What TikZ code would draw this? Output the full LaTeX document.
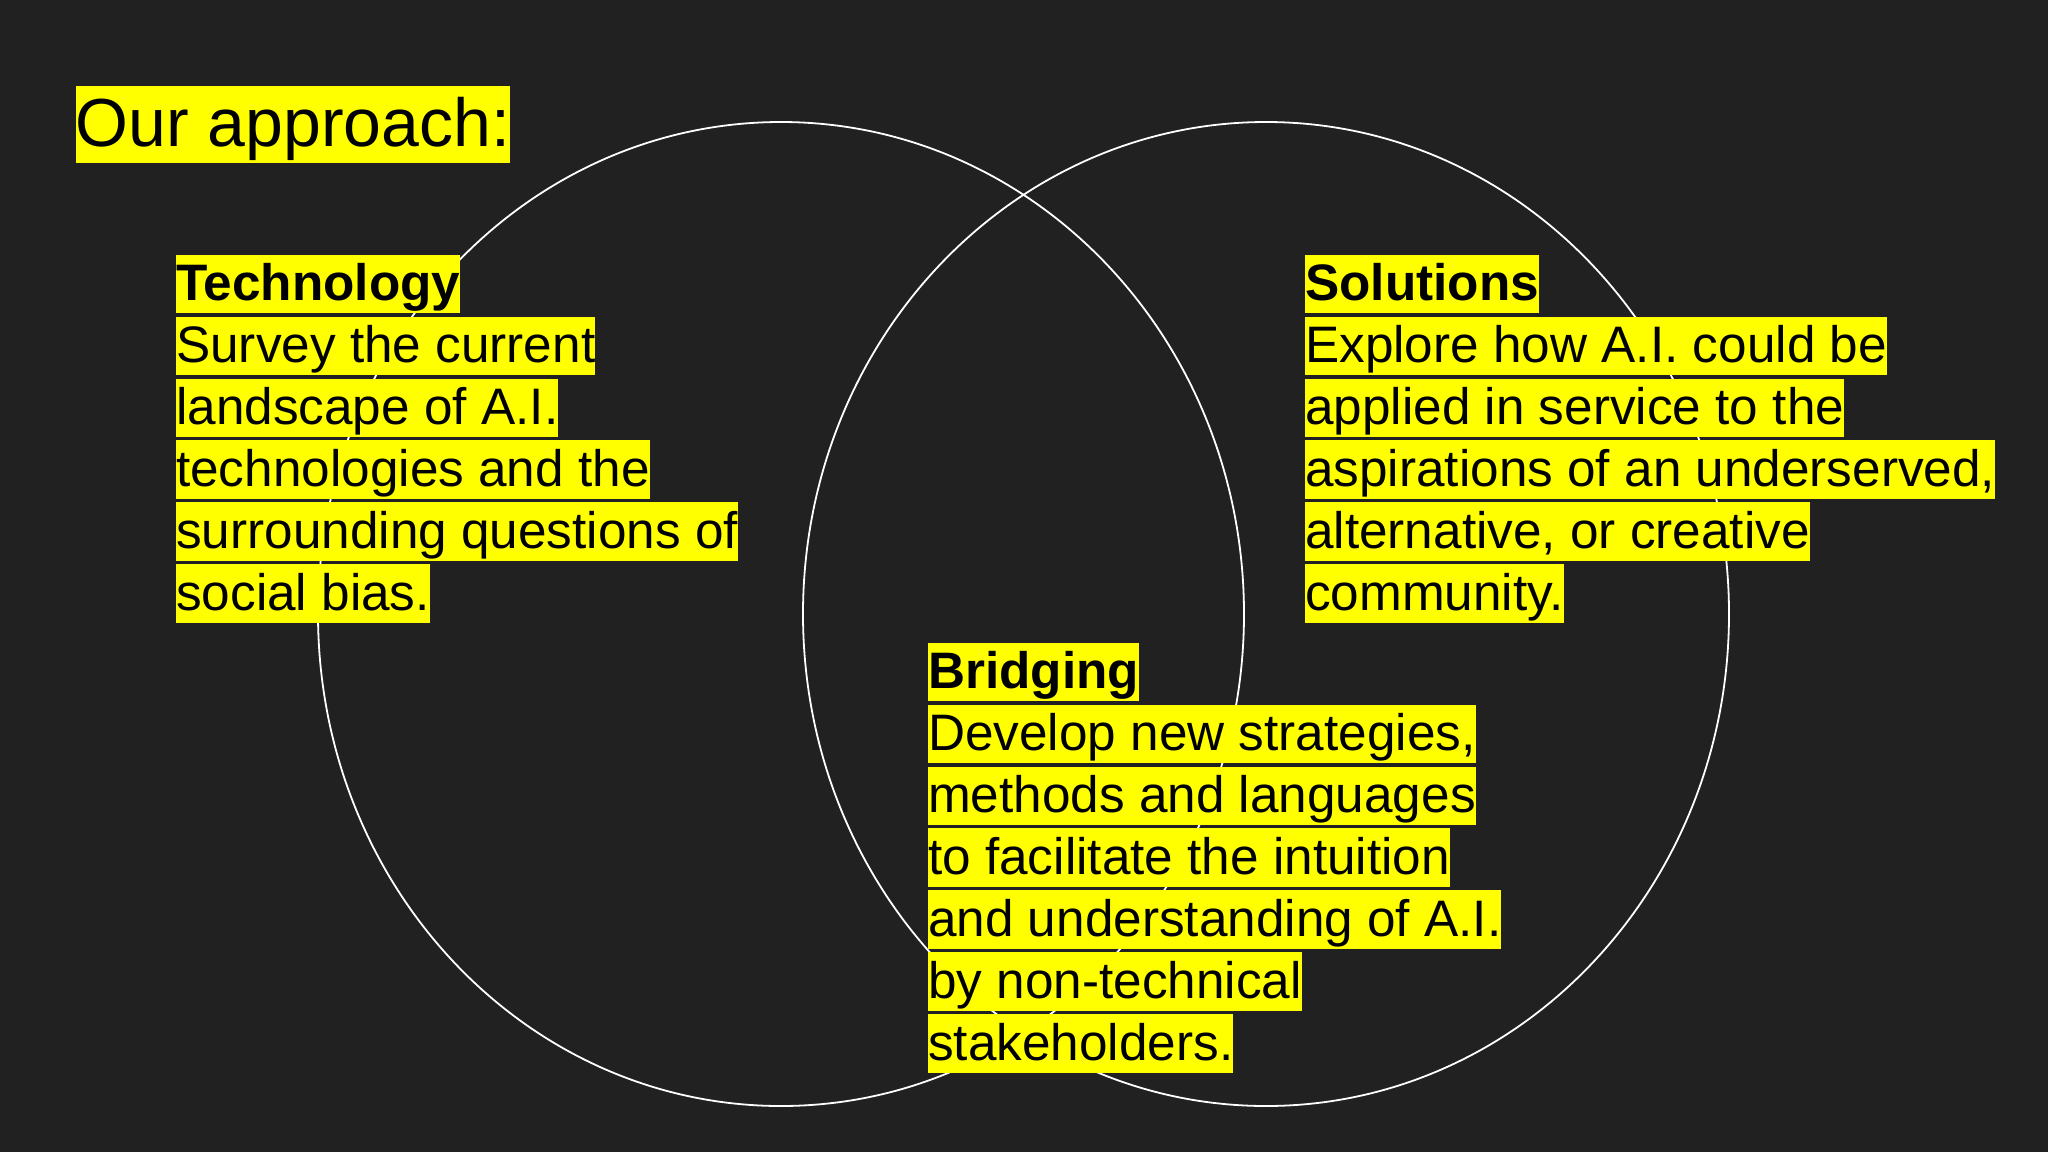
\documentclass[tikz,border=0pt]{standalone}
\usepackage{fontspec}
\setmainfont{Liberation Sans}
\usetikzlibrary{positioning}
\definecolor{slidebg}{RGB}{33,33,33}
\definecolor{marker}{RGB}{255,255,0}
\newcommand{\bodysize}{\fontsize{51.3}{61.5}\selectfont}
\newcommand{\titlesize}{\fontsize{68}{80}\selectfont}

\begin{document}
\begin{tikzpicture}[x=1pt, y=-1pt,
    hilite/.style={fill=marker, text=black, inner sep=0pt, anchor=north west,
      font=\bodysize, text height=46pt, text depth=12.5pt},
    headline/.style={hilite, font=\bodysize\bfseries},
    nextline/.style={hilite, below right=3pt and 0pt of #1.south west},
    ring/.style={draw=white, line width=1.8pt}]
  \useasboundingbox (0,0) rectangle (2048,1152);
  \fill[slidebg] (0,0) rectangle (2048,1152);

  % the two sets
  \draw[ring] (781,614) ellipse [x radius=463pt, y radius=492pt];
  \draw[ring] (1266,614) ellipse [x radius=463pt, y radius=492pt];

  \node[hilite, font=\titlesize, text height=61pt, text depth=16.5pt] (title)
    at (75.5,85.5) {Our approach:};

  % left
  \node[headline] (tech0) at (176,254.5) {Technology};
  \node[nextline=tech0] (tech1) {Survey the current};
  \node[nextline=tech1] (tech2) {landscape of A.I.};
  \node[nextline=tech2] (tech3) {technologies and the};
  \node[nextline=tech3] (tech4) {surrounding questions of};
  \node[nextline=tech4] (tech5) {social bias.};

  % right
  \node[headline] (sol0) at (1305,254.5) {Solutions};
  \node[nextline=sol0] (sol1) {Explore how A.I. could be};
  \node[nextline=sol1] (sol2) {applied in service to the};
  \node[nextline=sol2] (sol3) {aspirations of an underserved,};
  \node[nextline=sol3] (sol4) {alternative, or creative};
  \node[nextline=sol4] (sol5) {community.};

  % overlap
  \node[headline] (bridge0) at (928,642.5) {Bridging};
  \node[nextline=bridge0] (bridge1) {Develop new strategies,};
  \node[nextline=bridge1] (bridge2) {methods and languages};
  \node[nextline=bridge2] (bridge3) {to facilitate the intuition};
  \node[nextline=bridge3] (bridge4) {and understanding of A.I.};
  \node[nextline=bridge4] (bridge5) {by non-technical};
  \node[nextline=bridge5] (bridge6) {stakeholders.};
\end{tikzpicture}
\end{document}
